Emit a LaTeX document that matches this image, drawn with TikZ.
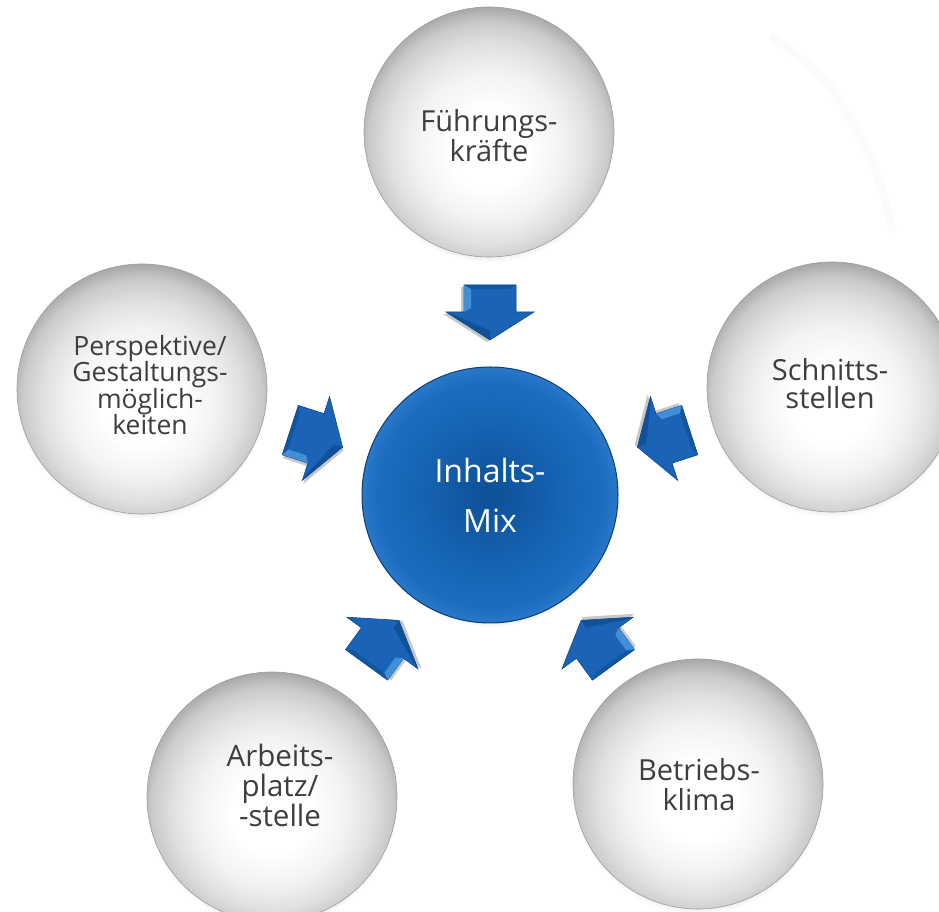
\documentclass[tikz,border=0pt]{standalone}
\usepackage{fontspec}
\setmainfont{Open Sans}
\usetikzlibrary{shadows,calc}

% palette
\definecolor{txtgray}{HTML}{3E3E3E}
\definecolor{pearlsoft}{HTML}{F2F2F2}
\definecolor{pearlmid}{HTML}{E0E0E0}
\definecolor{pearlouter}{HTML}{CACACA}
\definecolor{pearlrim}{HTML}{A6A6A6}
\definecolor{pearlline}{HTML}{9C9C9C}
\definecolor{hubcore}{HTML}{0D5096}
\definecolor{hubmid}{HTML}{1663B4}
\definecolor{hubouter}{HTML}{1B6CC0}
\definecolor{hubrim}{HTML}{2A78C8}
\definecolor{hubline}{HTML}{0B3E76}
\definecolor{arrowface}{HTML}{1A63B6}
\definecolor{arrowlight}{HTML}{4C9BE2}
\definecolor{arrowdark}{HTML}{0D4A8C}

% shadings for the pearl bubbles and the blue hub
\pgfdeclareradialshading{pearl}{\pgfpoint{0bp}{-4bp}}{%
  color(0bp)=(white); color(8bp)=(white); color(15bp)=(pearlsoft);
  color(20bp)=(pearlmid); color(24bp)=(pearlouter); color(27bp)=(pearlrim);
  color(50bp)=(pearlrim)}
\pgfdeclareradialshading{hub}{\pgfpointorigin}{%
  color(0bp)=(hubcore); color(14bp)=(hubmid); color(22bp)=(hubouter);
  color(25bp)=(hubrim); color(50bp)=(hubrim)}

\tikzset{
  bubble/.style={circle, minimum size=250pt, inner sep=0pt, shade, shading=pearl,
    draw=pearlline, line width=0.6pt,
    circular drop shadow={shadow xshift=0pt, shadow yshift=-5pt, shadow scale=1.0, opacity=0.4}},
  hubdisc/.style={circle, minimum size=256pt, inner sep=0pt, shade, shading=hub,
    draw=hubline, line width=1pt,
    circular drop shadow={shadow xshift=1pt, shadow yshift=-4pt, shadow scale=1.0, opacity=0.5}},
  bubbletext/.style={align=center, text=txtgray, inner sep=0pt},
  hubtext/.style={align=center, text=white, inner sep=0pt,
    font=\fontsize{32}{50}\selectfont},
  inarrow/.pic={
    % shadow
    \fill[black, opacity=0.22, shift={(2,-3)}]
      (-28,-26) -- (-1,-26) -- (-1,-44) -- (27,0) -- (-1,44) -- (-1,26) -- (-28,26) -- cycle;
    % body
    \fill[arrowface, draw=arrowdark, line width=0.6pt]
      (-28,-26) -- (-1,-26) -- (-1,-44) -- (27,0) -- (-1,44) -- (-1,26) -- (-28,26) -- cycle;
    % bevel: light strip along the shaft, dark facets on head and back
    \fill[arrowlight, opacity=0.8]
      (-28,-26) -- (-1,-26) -- (-5,-19) -- (-24,-19) -- cycle;
    \fill[arrowdark, opacity=0.7]
      (-1,-44) -- (27,0) -- (18,0) -- (2,-35) -- cycle;
    \fill[arrowdark, opacity=0.5]
      (-28,-26) -- (-24,-19) -- (-24,19) -- (-28,26) -- cycle;
  }
}

\begin{document}
\begin{tikzpicture}[x=1pt, y=1pt]
  \useasboundingbox (0,0) rectangle (939,912);

  % faint reflection arc, upper right
  \draw[line width=8pt, color=black!1.5, line cap=round]
    plot[smooth] coordinates {(773,875) (827,829) (870,755) (893,682)};

  % outer topics
  \node[bubble] (fk) at (489,780) {};
  \node[bubble] (pg) at (142,523) {};
  \node[bubble] (ss) at (832,525) {};
  \node[bubble] (ap) at (272,115) {};
  \node[bubble] (bk) at (698,128) {};

  % hub
  \node[hubdisc] (hub) at (490,417) {};

  % labels
  \node[bubbletext, font=\fontsize{29}{30}\selectfont] (fkt) at (489,776) {Führungs-\\kräfte};
  \node[bubbletext, font=\fontsize{26.5}{26.5}\selectfont] (pgt) at (150,527) {Perspektive/\\Gestaltungs-\\möglich-\\keiten};
  \node[bubbletext, font=\fontsize{29}{28}\selectfont] (sst) at (830,528) {Schnitts-\\stellen};
  \node[bubbletext, font=\fontsize{29.5}{30}\selectfont] (apt) at (280,127) {Arbeits-\\platz/\\-stelle};
  \node[bubbletext, font=\fontsize{29}{30}\selectfont] (bkt) at (699,127) {Betriebs-\\klima};
  \node[hubtext] (hubt) at (hub) {Inhalts-\\Mix};

  % arrows pointing into the hub
  \path ($(hub)+(90:182)$)  pic[rotate=270] {inarrow};
  \path ($(hub)+(162:182)$) pic[rotate=342] {inarrow};
  \path ($(hub)+(18:182)$)  pic[rotate=198] {inarrow};
  \path ($(hub)+(234:182)$) pic[rotate=54]  {inarrow};
  \path ($(hub)+(306:182)$) pic[rotate=126] {inarrow};
\end{tikzpicture}
\end{document}
